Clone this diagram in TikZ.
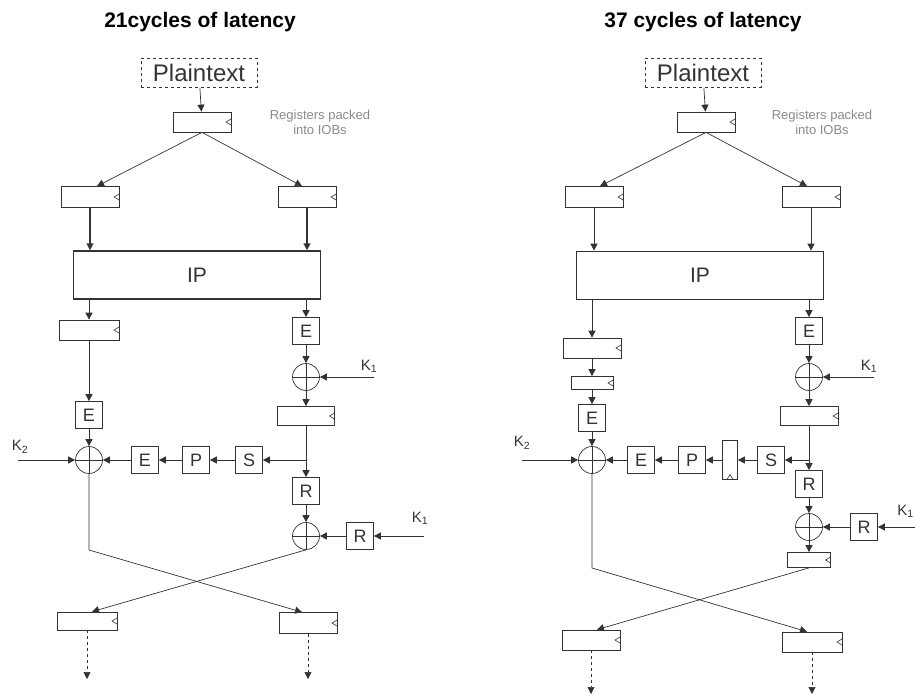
\documentclass[tikz,border=0pt]{standalone}
\usepackage{fontspec}
\setmainfont{Liberation Sans}
\usetikzlibrary{positioning,arrows.meta,calc}
\definecolor{wireGray}{HTML}{333333}
\definecolor{noteGray}{HTML}{8A8A8A}

\begin{document}
\begin{tikzpicture}[
  x=1pt, y=-1pt, line width=0.7pt, color=wireGray,
  reg/.style={draw, minimum width=58, minimum height=20, inner sep=0pt,
    path picture={\draw[line width=0.6pt] ([yshift=3pt]path picture bounding box.east)
      -- ([xshift=-5pt]path picture bounding box.east) -- ([yshift=-3pt]path picture bounding box.east);}},
  vreg/.style={draw, minimum width=15, minimum height=39, inner sep=0pt,
    path picture={\draw[line width=0.6pt] ([xshift=-3pt]path picture bounding box.south)
      -- ([yshift=5pt]path picture bounding box.south) -- ([xshift=3pt]path picture bounding box.south);}},
  fbox/.style={draw, minimum size=27, inner sep=0pt, font=\fontsize{18}{18}\selectfont},
  xor/.style={circle, draw, minimum size=27, inner sep=0pt,
    path picture={\draw (path picture bounding box.north) -- (path picture bounding box.south)
      (path picture bounding box.west) -- (path picture bounding box.east);}},
  ptext/.style={draw, dashed, minimum width=116, minimum height=29, inner sep=0pt, font=\fontsize{24}{24}\selectfont},
  ipbox/.style={draw, minimum width=247, minimum height=48, font=\fontsize{21}{21}\selectfont},
  note/.style={align=center, text=noteGray, font=\fontsize{13}{15}\selectfont},
  title/.style={font=\fontsize{21}{21}\selectfont\bfseries, text=black},
  key/.style={inner sep=1pt, font=\fontsize{15}{15}\selectfont},
  wire/.style={-{Triangle[length=7pt,width=7pt]}},
  dwire/.style={wire, dashed}
]
  \useasboundingbox (0,0) rectangle (915,698);

  % ---- 21 cycles ----
  \node[title] (titleL) at (200,22) {21cycles of latency};
  \node[ptext] (ptL) at (199,73) {Plaintext};
  \node[reg] (inL) at (202,122) {};
  \node[note] (noteL) at (320,122) {Registers packed\\into IOBs};
  \node[reg, minimum height=21] (splitLa) at (90,197) {};
  \node[reg, minimum height=21] (splitLb) at (307,197) {};
  \node[ipbox, line width=1.5pt] (ipL) at (197,275) {IP};
  \node[reg, minimum width=60] (bufL) at (89,330) {};
  \node[fbox] (eRL) at (306,331) {E};
  \node[xor] (xkL) at (306,377) {};
  \node[key] (k1L) at (369,366) {K\textsubscript{1}};
  \coordinate (k1Lin) at (374,377);
  \node[reg, minimum width=57, minimum height=19] (regRL) at (306,416) {};
  \node[fbox] (eLL) at (89,415) {E};
  \node[xor] (xoL) at (89,460) {};
  \node[key] (k2L) at (20,447) {K\textsubscript{2}};
  \coordinate (k2Lin) at (18,460);
  \node[fbox] (eFL) at (145,460) {E};
  \node[fbox] (pFL) at (196,460) {P};
  \node[fbox] (sFL) at (249,460) {S};
  \coordinate (brL) at (306,460);
  \node[fbox] (rRL) at (306,491) {R};
  \node[xor] (xrL) at (306,536) {};
  \node[fbox] (rkL) at (360,536) {R};
  \node[key] (k1Lb) at (420,518) {K\textsubscript{1}};
  \coordinate (k1Lbin) at (424,536);
  \coordinate (bendL) at (89,550);
  \node[reg, minimum width=60, minimum height=18] (outLa) at (87,621) {};
  \node[reg, minimum height=21] (outLb) at (308,623) {};
  \coordinate (endLa) at (87,679);
  \coordinate (endLb) at (308,679);

  \draw[wire] (ptL) -- (inL);
  \draw[wire] (inL.south) -- ([xshift=7pt]splitLa.north);
  \draw[wire] (inL.south) -- ([xshift=-5pt]splitLb.north);
  \draw[wire, line width=1.2pt] (splitLa) -- (splitLa |- ipL.north);
  \draw[wire, line width=1.2pt] (splitLb) -- (splitLb |- ipL.north);
  \draw[wire] (bufL |- ipL.south) -- (bufL);
  \draw[wire] (eRL |- ipL.south) -- (eRL);
  \draw[wire] (bufL) -- (eLL);
  \draw[wire] (eLL) -- (xoL);
  \draw[wire] (eRL) -- (xkL);
  \draw[wire] (k1Lin) -- (xkL);
  \draw[wire] (xkL) -- (regRL);
  \draw[wire] (regRL) -- (rRL);
  \draw[wire] (brL) -- (sFL);
  \draw[wire] (sFL) -- (pFL);
  \draw[wire] (pFL) -- (eFL);
  \draw[wire] (eFL) -- (xoL);
  \draw[wire] (k2Lin) -- (xoL);
  \draw[wire] (rRL) -- (xrL);
  \draw[wire] (rkL) -- (xrL);
  \draw[wire] (k1Lbin) -- (rkL);
  \draw[wire] (xoL) -- (bendL) -- ([xshift=-6pt]outLb.north);
  \draw[wire] (xrL.south) -- ([xshift=5pt]outLa.north);
  \draw[dwire] (outLa) -- (endLa);
  \draw[dwire] (outLb) -- (endLb);

  % ---- 37 cycles ----
  \node[title] (titleR) at (703,22) {37 cycles of latency};
  \node[ptext] (ptR) at (703,73) {Plaintext};
  \node[reg] (inR) at (706,122) {};
  \node[note] (noteR) at (822,122) {Registers packed\\into IOBs};
  \node[reg, minimum height=21] (splitRa) at (594,197) {};
  \node[reg, minimum height=21] (splitRb) at (811,197) {};
  \node[ipbox] (ipR) at (700,275) {IP};
  \node[reg] (bufRa) at (592,348) {};
  \node[reg, minimum width=42, minimum height=13] (bufRb) at (592,383) {};
  \node[fbox] (eLR) at (592,418) {E};
  \node[xor] (xoR) at (592,460) {};
  \node[key] (k2R) at (522,443) {K\textsubscript{2}};
  \coordinate (k2Rin) at (522,460);
  \node[fbox] (eFR) at (641,460) {E};
  \node[fbox] (pFR) at (692,460) {P};
  \node[vreg] (vregR) at (730,460) {};
  \node[fbox] (sFR) at (771,460) {S};
  \coordinate (brR) at (809,460);
  \node[fbox] (eRR) at (809,331) {E};
  \node[xor] (xkR) at (809,377) {};
  \node[key] (k1R) at (869,366) {K\textsubscript{1}};
  \coordinate (k1Rin) at (874,377);
  \node[reg, minimum height=19] (regRR) at (809,416) {};
  \node[fbox] (rRR) at (809,484) {R};
  \node[xor] (xrR) at (809,527) {};
  \node[fbox] (rkR) at (864,527) {R};
  \node[key, anchor=west] (k1Rb) at (896,511) {K\textsubscript{1}};
  \coordinate (k1Rbin) at (915,527);
  \node[reg, minimum width=43, minimum height=15] (syncR) at (809,560) {};
  \coordinate (bendR) at (592,568);
  \node[reg] (outRa) at (591,640) {};
  \node[reg, minimum width=60] (outRb) at (812,642) {};
  \coordinate (endRa) at (591,694);
  \coordinate (endRb) at (812,694);

  \draw[wire] (ptR) -- (inR);
  \draw[wire] (inR.south) -- ([xshift=6pt]splitRa.north);
  \draw[wire] (inR.south) -- ([xshift=-4pt]splitRb.north);
  \draw[wire] (splitRa) -- (splitRa |- ipR.north);
  \draw[wire] (splitRb) -- (splitRb |- ipR.north);
  \draw[wire] (bufRa |- ipR.south) -- (bufRa);
  \draw[wire] (eRR |- ipR.south) -- (eRR);
  \draw[wire] (bufRa) -- (bufRb);
  \draw[wire] (bufRb) -- (eLR);
  \draw[wire] (eLR) -- (xoR);
  \draw[wire] (eRR) -- (xkR);
  \draw[wire] (k1Rin) -- (xkR);
  \draw[wire] (xkR) -- (regRR);
  \draw[wire] (regRR) -- (rRR);
  \draw[wire] (brR) -- (sFR);
  \draw[wire] (sFR) -- (vregR);
  \draw[wire] (vregR) -- (pFR);
  \draw[wire] (pFR) -- (eFR);
  \draw[wire] (eFR) -- (xoR);
  \draw[wire] (k2Rin) -- (xoR);
  \draw[wire] (rRR) -- (xrR);
  \draw[wire] (rkR) -- (xrR);
  \draw[wire] (k1Rbin) -- (rkR);
  \draw[wire] (xrR) -- (syncR);
  \draw[wire] (xoR) -- (bendR) -- ([xshift=-5pt]outRb.north);
  \draw[wire] (syncR.south) -- ([xshift=6pt]outRa.north);
  \draw[dwire] (outRa) -- (endRa);
  \draw[dwire] (outRb) -- (endRb);
\end{tikzpicture}
\end{document}
